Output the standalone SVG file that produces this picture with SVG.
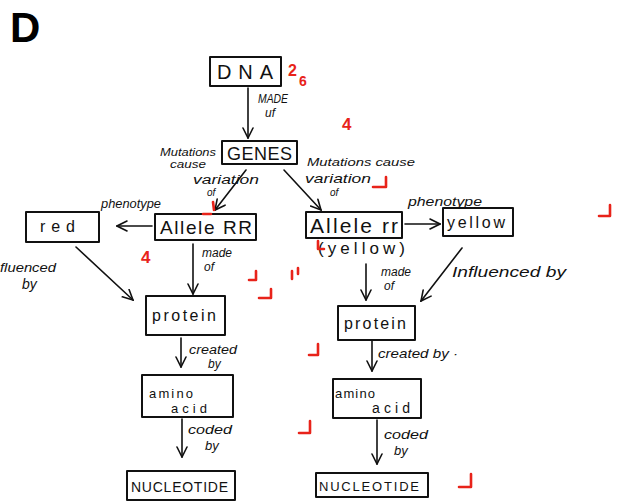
<svg xmlns="http://www.w3.org/2000/svg" width="619" height="501" viewBox="0 0 619 501">
  <style>
    .box { fill: none; stroke: #111; stroke-width: 2; stroke-linejoin: round; }
    .edge { fill: none; stroke: #111; stroke-width: 1.6; stroke-linecap: round; }
    .node { font-family: "Liberation Sans", Arial, sans-serif; fill: #111; }
    .lbl { font-family: "Liberation Sans", Arial, sans-serif; fill: #111; font-style: italic; }
    .red { fill: none; stroke: #e8231a; stroke-width: 2.6; stroke-linecap: round; stroke-linejoin: round; }
    .redtxt { font-family: "Liberation Sans", Arial, sans-serif; fill: #e8231a; font-weight: bold; }
  </style>
  <defs>
    <marker id="arrow" viewBox="0 0 12 12" refX="11" refY="6" markerWidth="12" markerHeight="12" markerUnits="userSpaceOnUse" orient="auto">
      <path d="M1,1 L11,6 L1,11" fill="none" stroke="#111" stroke-width="1.6" stroke-linecap="round"/>
    </marker>
  </defs>

  <rect width="619" height="501" fill="#fff"/>

  <!-- panel letter -->
  <text x="10" y="42" font-family="Liberation Sans, Arial, sans-serif" font-weight="bold" font-size="42" fill="#000">D</text>

  <!-- connectors -->
  <g id="connectors">
    <line class="edge" x1="248" y1="88" x2="248" y2="138" marker-end="url(#arrow)"/>
    <line class="edge" x1="246" y1="170" x2="215" y2="210" marker-end="url(#arrow)"/>
    <line class="edge" x1="284" y1="170" x2="321" y2="210" marker-end="url(#arrow)"/>
    <line class="edge" x1="152" y1="226" x2="117" y2="226" marker-end="url(#arrow)"/>
    <line class="edge" x1="405" y1="224" x2="440" y2="224" marker-end="url(#arrow)"/>
    <line class="edge" x1="76" y1="247" x2="133" y2="300" marker-end="url(#arrow)"/>
    <line class="edge" x1="193" y1="244" x2="193" y2="294" marker-end="url(#arrow)"/>
    <line class="edge" x1="366" y1="264" x2="366" y2="300" marker-end="url(#arrow)"/>
    <line class="edge" x1="462" y1="248" x2="421" y2="301" marker-end="url(#arrow)"/>
    <line class="edge" x1="181" y1="338" x2="181" y2="367" marker-end="url(#arrow)"/>
    <line class="edge" x1="372" y1="341" x2="372" y2="371" marker-end="url(#arrow)"/>
    <line class="edge" x1="182" y1="419" x2="182" y2="457" marker-end="url(#arrow)"/>
    <line class="edge" x1="377" y1="420" x2="377" y2="464" marker-end="url(#arrow)"/>

    <!-- connector labels -->
    <text class="lbl" x="258" y="103" font-size="12" textLength="30" lengthAdjust="spacingAndGlyphs">MADE</text>
    <text class="lbl" x="265" y="117" font-size="12">uf</text>
    <text class="lbl" x="160" y="156" font-size="10" textLength="56" lengthAdjust="spacingAndGlyphs">Mutations</text>
    <text class="lbl" x="170" y="168" font-size="10" textLength="36" lengthAdjust="spacingAndGlyphs">cause</text>
    <text class="lbl" x="193" y="184" font-size="12" textLength="66" lengthAdjust="spacingAndGlyphs">variation</text>
    <text class="lbl" x="207" y="196" font-size="10">of</text>
    <text class="lbl" x="307" y="166" font-size="10" textLength="108" lengthAdjust="spacingAndGlyphs">Mutations cause</text>
    <text class="lbl" x="305" y="183" font-size="13" textLength="66" lengthAdjust="spacingAndGlyphs">variation</text>
    <text class="lbl" x="330" y="196" font-size="10">of</text>
    <text class="lbl" x="101" y="208" font-size="12" textLength="60" lengthAdjust="spacingAndGlyphs">phenotype</text>
    <text class="lbl" x="408" y="206" font-size="13" textLength="74" lengthAdjust="spacingAndGlyphs">phenotype</text>
    <text class="lbl" x="0" y="272" font-size="13" textLength="56" lengthAdjust="spacingAndGlyphs">fluenced</text>
    <text class="lbl" x="22" y="289" font-size="14">by</text>
    <text class="lbl" x="202" y="257" font-size="12">made</text>
    <text class="lbl" x="204" y="271" font-size="12">of</text>
    <text class="lbl" x="381" y="276" font-size="12">made</text>
    <text class="lbl" x="384" y="290" font-size="12">of</text>
    <text class="lbl" x="452" y="277" font-size="14" textLength="114" lengthAdjust="spacingAndGlyphs">Influenced by</text>
    <text class="lbl" x="189" y="354" font-size="12" textLength="48" lengthAdjust="spacingAndGlyphs">created</text>
    <text class="lbl" x="208" y="368" font-size="12">by</text>
    <text class="lbl" x="378" y="358" font-size="13" textLength="80" lengthAdjust="spacingAndGlyphs">created by ·</text>
    <text class="lbl" x="188" y="434" font-size="13" textLength="44" lengthAdjust="spacingAndGlyphs">coded</text>
    <text class="lbl" x="205" y="450" font-size="13">by</text>
    <text class="lbl" x="384" y="439" font-size="13" textLength="44" lengthAdjust="spacingAndGlyphs">coded</text>
    <text class="lbl" x="394" y="455" font-size="13">by</text>
  </g>

  <!-- nodes -->
  <g id="dna">
    <rect class="box" x="210" y="57" width="71" height="29"/>
    <text class="node" x="217" y="79" font-size="20" textLength="56" lengthAdjust="spacing">DNA</text>
  </g>
  <g id="genes">
    <rect class="box" x="222" y="141" width="75" height="23"/>
    <text class="node" x="227" y="160" font-size="18" textLength="65" lengthAdjust="spacing">GENES</text>
  </g>
  <g id="allele-RR">
    <rect class="box" x="155" y="214" width="101" height="26"/>
    <text class="node" x="160" y="234" font-size="19" textLength="92" lengthAdjust="spacing">Allele RR</text>
  </g>
  <g id="red">
    <rect class="box" x="26" y="212" width="73" height="30"/>
    <text class="node" x="40" y="232" font-size="16" textLength="35" lengthAdjust="spacing">red</text>
  </g>
  <g id="allele-rr">
    <rect class="box" x="306" y="212" width="96" height="26"/>
    <text class="node" x="310" y="233" font-size="21" textLength="88" lengthAdjust="spacing">Allele rr</text>
    <text class="node" x="318" y="254" font-size="17" textLength="87" lengthAdjust="spacing">(yellow)</text>
  </g>
  <g id="yellow">
    <rect class="box" x="443" y="208" width="70" height="28"/>
    <text class="node" x="447" y="228" font-size="16" textLength="58" lengthAdjust="spacing">yellow</text>
  </g>
  <g id="protein-left">
    <rect class="box" x="146" y="296" width="79" height="39"/>
    <text class="node" x="152" y="321" font-size="16" textLength="64" lengthAdjust="spacing">protein</text>
  </g>
  <g id="protein-right">
    <rect class="box" x="338" y="306" width="77" height="34"/>
    <text class="node" x="344" y="329" font-size="16" textLength="62" lengthAdjust="spacing">protein</text>
  </g>
  <g id="amino-left">
    <rect class="box" x="142" y="375" width="91" height="42"/>
    <text class="node" x="149" y="398" font-size="13" textLength="44" lengthAdjust="spacing">amino</text>
    <text class="node" x="171" y="413" font-size="13" textLength="36" lengthAdjust="spacing">acid</text>
  </g>
  <g id="amino-right">
    <rect class="box" x="333" y="379" width="88" height="39"/>
    <text class="node" x="335" y="398" font-size="13" textLength="40" lengthAdjust="spacing">amino</text>
    <text class="node" x="372" y="413" font-size="14" textLength="38" lengthAdjust="spacing">acid</text>
  </g>
  <g id="nucleotide-left">
    <rect class="box" x="127" y="471" width="108" height="29"/>
    <text class="node" x="131" y="492" font-size="14" textLength="97" lengthAdjust="spacing">NUCLEOTIDE</text>
  </g>
  <g id="nucleotide-right">
    <rect class="box" x="316" y="473" width="112" height="24"/>
    <text class="node" x="319" y="491" font-size="13" textLength="100" lengthAdjust="spacing">NUCLEOTIDE</text>
  </g>

  <!-- red grading marks -->
  <g id="grading">
    <text class="redtxt" x="288" y="76" font-size="16">2</text>
    <text class="redtxt" x="299" y="86" font-size="14">6</text>
    <text class="redtxt" x="342" y="130" font-size="17">4</text>
    <text class="redtxt" x="141" y="263" font-size="17">4</text>
    <path class="red" d="M213,202 L214,210 M203,214 L211,214"/>
    <path class="red" d="M249,280 L256,280 L256,271 M259,298 L271,298 L271,289"/>
    <path class="red" d="M292,271 L292,279 M298,268 L298,274"/>
    <path class="red" d="M373,187 L386,187 L386,177"/>
    <path class="red" d="M599,216 L610,216 L610,205"/>
    <path class="red" d="M318,241 L318,249 L324,249"/>
    <path class="red" d="M309,355 L318,355 L318,344"/>
    <path class="red" d="M299,433 L310,433 L310,421"/>
    <path class="red" d="M459,487 L471,487 L471,474"/>
  </g>
</svg>
